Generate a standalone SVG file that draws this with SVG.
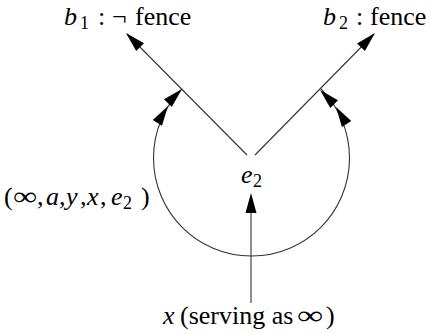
<svg xmlns="http://www.w3.org/2000/svg" xmlns:xlink="http://www.w3.org/1999/xlink" width="430" height="334" viewBox="0 0 430 334">
<style>
text{font-family:'Liberation Serif','Times New Roman','DejaVu Serif',serif;font-size:26px;fill:#000}
.it{font-style:italic}
.sub{font-size:18px}
.edge{fill:none;stroke:#333;stroke-width:1.1}
.head{fill:#000}
</style>
<defs>
<path id="ah" class="head" d="M0,0 L-20,-5.5 L-20,5.5 Z"/>
</defs>
<rect width="430" height="334" fill="#fff"/>
<g id="connectors">
<line class="edge" x1="247" y1="155" x2="127" y2="34"/>
<line class="edge" x1="255" y1="155" x2="374" y2="34"/>
<line class="edge" x1="251" y1="303" x2="251" y2="196"/>
<path class="edge" d="M182.2,88.7 A98,98 0 1 0 320.8,88.7"/>
<use xlink:href="#ah" transform="translate(126,33) rotate(-134.8)"/>
<use xlink:href="#ah" transform="translate(375,33) rotate(-45.5)"/>
<use xlink:href="#ah" transform="translate(251,193) rotate(-90)"/>
<use xlink:href="#ah" transform="translate(182,89) rotate(-45)"/>
<use xlink:href="#ah" transform="translate(168,106) rotate(-57.8)"/>
<use xlink:href="#ah" transform="translate(320,90) rotate(-135)"/>
<use xlink:href="#ah" transform="translate(336,107) rotate(-122)"/>
</g>
<g id="node-b1">
<text y="25"><tspan class="it" x="64">b</tspan><tspan class="sub" x="80" y="29">1</tspan><tspan x="98" y="25">:</tspan><tspan x="112">¬</tspan><tspan x="135">fence</tspan></text>
</g>
<g id="node-b2">
<text y="25"><tspan class="it" x="323">b</tspan><tspan class="sub" x="339" y="29">2</tspan><tspan x="356" y="25">:</tspan><tspan x="370">fence</tspan></text>
</g>
<g id="node-e2">
<text y="183"><tspan class="it" x="241">e</tspan><tspan class="sub" x="253" y="187">2</tspan></text>
</g>
<g id="node-x">
<text y="324"><tspan class="it" x="163">x</tspan><tspan x="180">(serving as</tspan></text>
<text x="297" y="324" textLength="26" lengthAdjust="spacingAndGlyphs">∞</text>
<text x="326" y="324">)</text>
</g>
<g id="label-arc">
<text x="4" y="205">(</text>
<text x="13" y="205" textLength="24" lengthAdjust="spacingAndGlyphs">∞</text>
<text y="205"><tspan x="37">,</tspan><tspan class="it" x="46">a</tspan><tspan x="59">,</tspan><tspan class="it" x="66">y</tspan><tspan x="80">,</tspan><tspan class="it" x="87">x</tspan><tspan x="100">,</tspan><tspan class="it" x="111">e</tspan><tspan class="sub" x="123" y="209">2</tspan><tspan x="141" y="205">)</tspan></text>
</g>
</svg>
